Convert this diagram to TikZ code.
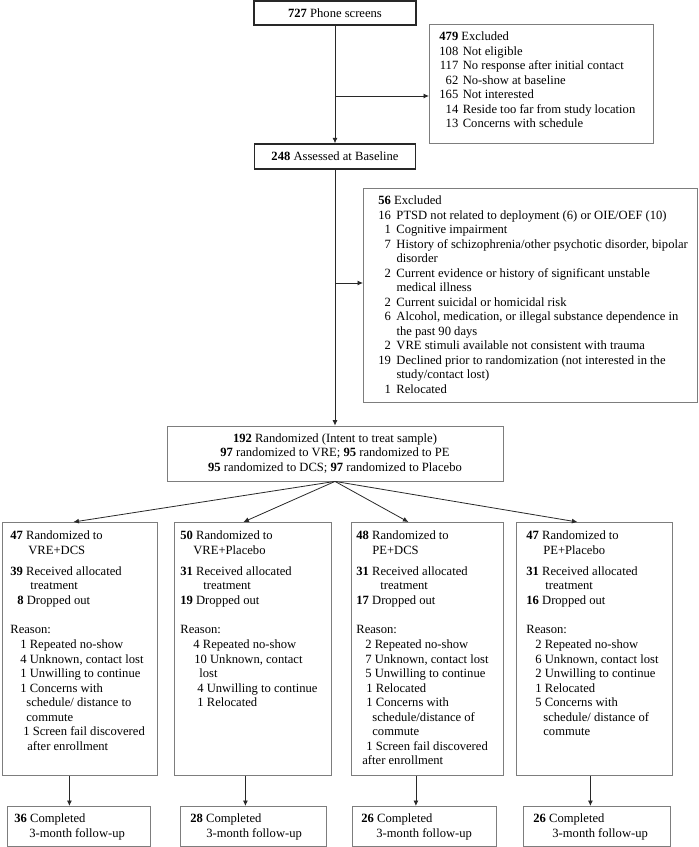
\documentclass[tikz,border=0pt]{standalone}
\usepackage{fontspec}
\setmainfont{Liberation Serif}
\usetikzlibrary{arrows.meta,calc,positioning}
\definecolor{boxgray}{RGB}{125,125,125}
\definecolor{linegray}{RGB}{40,40,40}
% width, height, top gap, left gap, content
\newcommand{\boxtext}[5]{\parbox[c][#2][t]{#1}{\vspace*{#3}\hspace*{#4}#5}}

\begin{document}
\begin{tikzpicture}[x=1pt,y=-1pt,>={Latex[length=5.5pt,width=5pt]},
  every node/.style={font=\fontsize{12.6}{14.5}\selectfont,inner sep=0pt},
  box/.style={draw=boxgray,line width=.8pt,anchor=north west},
  mainbox/.style={draw=linegray,line width=1.4pt,minimum height=24pt},
  flow/.style={draw=linegray,line width=.8pt,->}]
 \useasboundingbox (0,0) rectangle (699,847);

 % screening
 \node[mainbox,minimum width=162pt] (phone) at (335,13) {\textbf{727} Phone screens};
 \node[box] (excl1) at (429,24) {\boxtext{224pt}{119pt}{6.3pt}{10pt}{%
  \begin{tabular}[t]{@{}r@{\hspace{4.5pt}}l@{}}
   \multicolumn{2}{@{}l@{}}{\textbf{479} Excluded}\\
   108 & Not eligible\\
   117 & No response after initial contact\\
   62 & No-show at baseline\\
   165 & Not interested\\
   14 & Reside too far from study location\\
   13 & Concerns with schedule
  \end{tabular}}};
 \node[mainbox,minimum width=161pt,minimum height=25pt] (assess) at (335,156.5) {\textbf{248} Assessed at Baseline};
 \node[box] (excl2) at (363,188) {\boxtext{334pt}{214pt}{6.3pt}{15pt}{%
  \begin{tabular}[t]{@{}r@{\hspace{5.5pt}}l@{}}
   \multicolumn{2}{@{}l@{}}{\textbf{56} Excluded}\\
   16 & PTSD not related to deployment (6) or OIE/OEF (10)\\
   1 & Cognitive impairment\\
   7 & History of schizophrenia/other psychotic disorder, bipolar\\
     & disorder\\
   2 & Current evidence or history of significant unstable\\
     & medical illness\\
   2 & Current suicidal or homicidal risk\\
   6 & Alcohol, medication, or illegal substance dependence in\\
     & the past 90 days\\
   2 & VRE stimuli available not consistent with trauma\\
   19 & Declined prior to randomization (not interested in the\\
      & study/contact lost)\\
   1 & Relocated
  \end{tabular}}};

 % randomization
 \node[box,anchor=center,minimum width=336pt,minimum height=55pt,align=center] (rand) at (335,453.5)
  {\textbf{192} Randomized (Intent to treat sample)\\
   \textbf{97} randomized to VRE; \textbf{95} randomized to PE\\
   \textbf{95} randomized to DCS; \textbf{97} randomized to Placebo};

 % arms
 \node[box] (arm1) at (2,522) {\boxtext{155pt}{253pt}{7.3pt}{8pt}{%
  \begin{tabular}[t]{@{}l@{}}
   \textbf{47} Randomized to\\
   \hspace{18pt}VRE+DCS\\[6.5pt]
   \textbf{39} Received allocated\\
   \hspace{20pt}treatment\\
   \hspace{7pt}\textbf{8} Dropped out\\[15pt]
   Reason:\\[.5pt]
   \hspace{10pt}1 Repeated no-show\\
   \hspace{10pt}4 Unknown, contact lost\\
   \hspace{10pt}1 Unwilling to continue\\
   \hspace{10pt}1 Concerns with\\
   \hspace{16pt}schedule/ distance to\\
   \hspace{16pt}commute\\
   \hspace{13pt}1 Screen fail discovered\\
   \hspace{17pt}after enrollment
  \end{tabular}}};
 \node[box] (arm2) at (174,522) {\boxtext{157pt}{253pt}{7.3pt}{6pt}{%
  \begin{tabular}[t]{@{}l@{}}
   \textbf{50} Randomized to\\
   \hspace{13pt}VRE+Placebo\\[6.5pt]
   \textbf{31} Received allocated\\
   \hspace{23pt}treatment\\
   \textbf{19} Dropped out\\[15pt]
   Reason:\\[.5pt]
   \hspace{13pt}4 Repeated no-show\\
   \hspace{14pt}10 Unknown, contact\\
   \hspace{19pt}lost\\
   \hspace{17pt}4 Unwilling to continue\\
   \hspace{17pt}1 Relocated
  \end{tabular}}};
 \node[box] (arm3) at (351,522) {\boxtext{152pt}{253pt}{7.3pt}{5pt}{%
  \begin{tabular}[t]{@{}l@{}}
   \textbf{48} Randomized to\\
   \hspace{16pt}PE+DCS\\[6.5pt]
   \textbf{31} Received allocated\\
   \hspace{24pt}treatment\\
   \textbf{17} Dropped out\\[15pt]
   Reason:\\[.5pt]
   \hspace{9pt}2 Repeated no-show\\
   \hspace{9pt}7 Unknown, contact lost\\
   \hspace{9pt}5 Unwilling to continue\\
   \hspace{10pt}1 Relocated\\
   \hspace{10pt}1 Concerns with\\
   \hspace{16pt}schedule/distance of\\
   \hspace{16pt}commute\\
   \hspace{10pt}1 Screen fail discovered\\
   \hspace{6pt}after enrollment
  \end{tabular}}};
 \node[box] (arm4) at (516,522) {\boxtext{156pt}{253pt}{7.3pt}{10pt}{%
  \begin{tabular}[t]{@{}l@{}}
   \textbf{47} Randomized to\\
   \hspace{17pt}PE+Placebo\\[6.5pt]
   \textbf{31} Received allocated\\
   \hspace{19pt}treatment\\
   \textbf{16} Dropped out\\[15pt]
   Reason:\\[.5pt]
   \hspace{9pt}2 Repeated no-show\\
   \hspace{9pt}6 Unknown, contact lost\\
   \hspace{9pt}2 Unwilling to continue\\
   \hspace{9pt}1 Relocated\\
   \hspace{9pt}5 Concerns with\\
   \hspace{17pt}schedule/ distance of\\
   \hspace{17pt}commute
  \end{tabular}}};

 % follow-up
 \node[box] (done1) at (7,806) {\boxtext{143pt}{40pt}{6.3pt}{7pt}{%
  \begin{tabular}[t]{@{}l@{}}\textbf{36} Completed\\[.5pt]\hspace{15pt}3-month follow-up\end{tabular}}};
 \node[box] (done2) at (180,806) {\boxtext{146pt}{40pt}{6.3pt}{10pt}{%
  \begin{tabular}[t]{@{}l@{}}\textbf{28} Completed\\[.5pt]\hspace{16pt}3-month follow-up\end{tabular}}};
 \node[box] (done3) at (352,806) {\boxtext{144pt}{40pt}{6.3pt}{9pt}{%
  \begin{tabular}[t]{@{}l@{}}\textbf{26} Completed\\[.5pt]\hspace{15pt}3-month follow-up\end{tabular}}};
 \node[box] (done4) at (523,806) {\boxtext{147pt}{40pt}{6.3pt}{10pt}{%
  \begin{tabular}[t]{@{}l@{}}\textbf{26} Completed\\[.5pt]\hspace{19pt}3-month follow-up\end{tabular}}};

 % connectors
 \coordinate (b1) at (335,96);
 \coordinate (b2) at (335,283);
 \draw[flow] (phone.south) -- (assess.north);
 \draw[flow] (b1) -- (b1 -| excl1.west);
 \draw[flow] (assess.south) -- (rand.north);
 \draw[flow] (b2) -- (b2 -| excl2.west);
 \draw[flow] (rand.south) -- ([xshift=-6.5pt]arm1.north);
 \draw[flow] (rand.south) -- ([xshift=-9.5pt]arm2.north);
 \draw[flow] (rand.south) -- ([xshift=-19pt]arm3.north);
 \draw[flow] (rand.south) -- ([xshift=-17pt]arm4.north);
 \foreach \i/\s in {1/-10.5,2/-7.5,3/-11.5,4/-4}
  \draw[flow] ([xshift=\s pt]arm\i.south) -- ([xshift=\s pt]arm\i.south |- done\i.north);
\end{tikzpicture}
\end{document}
